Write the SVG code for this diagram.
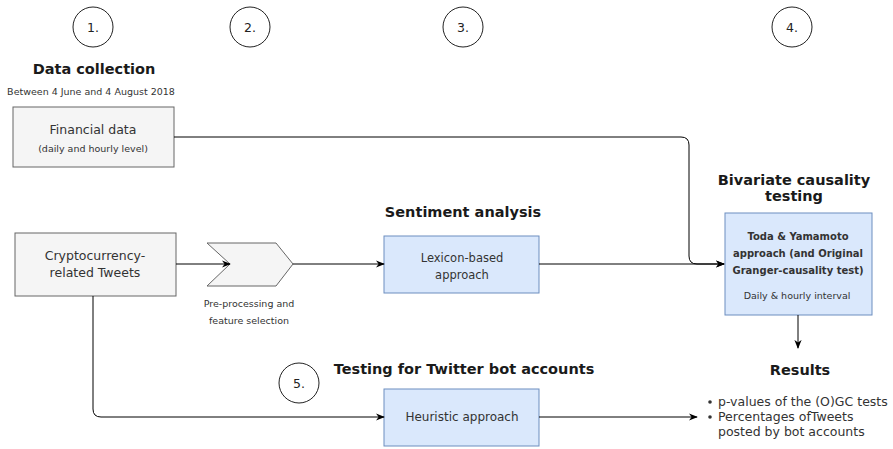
<svg xmlns="http://www.w3.org/2000/svg" width="893" height="449" viewBox="0 0 893 449">
<style>
text{font-family:"DejaVu Sans","Liberation Sans",sans-serif;fill:#333;text-anchor:middle}
.t{font-weight:bold;font-size:14.5px;fill:#1a1a1a}
.n{font-size:12.5px}
.s{font-size:9.5px}
.num{font-size:12.5px;fill:#222}
.circ{fill:#fff;stroke:#222;stroke-width:1}
.grey{fill:#f5f5f5;stroke:#666;stroke-width:1}
.blue{fill:#dae8fc;stroke:#6c8ebf;stroke-width:1}
.edge{fill:none;stroke:#000;stroke-width:1}
.b{font-size:12.5px;text-anchor:start}
</style>
<defs>
<marker id="arr" viewBox="0 0 10 10" refX="9" refY="5" markerWidth="9" markerHeight="9" orient="auto" markerUnits="userSpaceOnUse">
<path d="M0,1 L10,5 L0,9 L3,5 Z" fill="#000"/>
</marker>
</defs>

<g id="step1"><circle class="circ" cx="93" cy="27" r="20"/><text class="num" x="93" y="31.5">1.</text></g>
<g id="step2"><circle class="circ" cx="250" cy="27" r="20"/><text class="num" x="250" y="31.5">2.</text></g>
<g id="step3"><circle class="circ" cx="463" cy="27" r="20"/><text class="num" x="463" y="31.5">3.</text></g>
<g id="step4"><circle class="circ" cx="792" cy="27" r="20"/><text class="num" x="792" y="31.5">4.</text></g>
<g id="step5"><circle class="circ" cx="299" cy="383" r="20"/><text class="num" x="299" y="387.5">5.</text></g>

<g id="data-collection-title">
<text class="t" x="94" y="74">Data collection</text>
<text class="s" x="91" y="95">Between 4 June and 4 August 2018</text>
</g>

<g id="financial-data">
<rect class="grey" x="13" y="107" width="161" height="60"/>
<text class="n" x="93" y="134">Financial data</text>
<text class="s" x="93" y="152">(daily and hourly level)</text>
</g>

<g id="tweets">
<rect class="grey" x="15" y="233" width="161" height="63"/>
<text class="n" x="95" y="260">Cryptocurrency-</text>
<text class="n" x="95" y="277">related Tweets</text>
</g>

<g id="preprocessing">
<path class="grey" d="M207,243 L276,243 L293,264 L276,286 L207,286 L230,264 Z"/>
<text class="s" x="249" y="307">Pre-processing and</text>
<text class="s" x="249" y="324">feature selection</text>
</g>

<g id="sentiment">
<text class="t" x="463" y="217">Sentiment analysis</text>
<rect class="blue" x="384" y="236" width="155" height="57"/>
<text class="n" x="462" y="262" style="font-size:11.5px">Lexicon-based</text>
<text class="n" x="462" y="279" style="font-size:11.5px">approach</text>
</g>

<g id="causality">
<text class="t" x="794" y="185">Bivariate causality</text>
<text class="t" x="794" y="201">testing</text>
<rect class="blue" x="725" y="213" width="147" height="102"/>
<text x="798" y="240" style="font-size:10px;font-weight:bold">Toda &amp; Yamamoto</text>
<text x="798" y="257" style="font-size:10px;font-weight:bold">approach (and Original</text>
<text x="798" y="274" style="font-size:10px;font-weight:bold">Granger-causality test)</text>
<text x="797" y="299" style="font-size:9.5px">Daily &amp; hourly interval</text>
</g>

<g id="bot-testing">
<text class="t" x="464" y="374">Testing for Twitter bot accounts</text>
<rect class="blue" x="384" y="389" width="155" height="57"/>
<text class="n" x="462" y="421" style="font-size:12px">Heuristic approach</text>
</g>

<g id="results">
<text class="t" x="800" y="375">Results</text>
<circle cx="710" cy="402" r="1.8" fill="#333"/>
<circle cx="710" cy="417" r="1.8" fill="#333"/>
<text class="b" x="718" y="406">p-values of the (O)GC tests</text>
<text class="b" x="718" y="421">Percentages ofTweets</text>
<text class="b" x="718" y="436">posted by bot accounts</text>
</g>

<g id="connectors">
<path class="edge" d="M174,137 H681 Q689,137 689,145 V256 Q689,264 697,264 H724" marker-end="url(#arr)"/>
<path class="edge" d="M176,264 H230" marker-end="url(#arr)"/>
<path class="edge" d="M293,264 H384" marker-end="url(#arr)"/>
<path class="edge" d="M539,264 H724" marker-end="url(#arr)"/>
<path class="edge" d="M798,315 V348" marker-end="url(#arr)"/>
<path class="edge" d="M93,296 V409 Q93,417 101,417 H384" marker-end="url(#arr)"/>
<path class="edge" d="M539,417 H697" marker-end="url(#arr)"/>
</g>
</svg>
